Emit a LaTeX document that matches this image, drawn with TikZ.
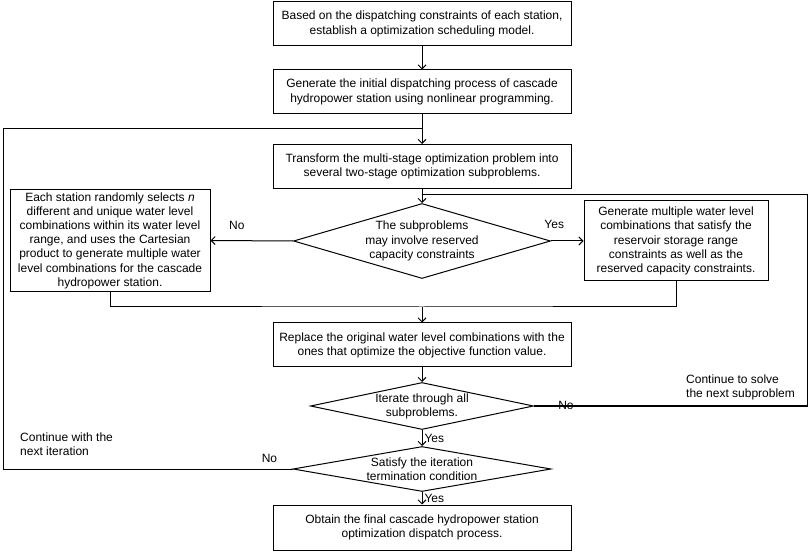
\documentclass[tikz,border=0pt]{standalone}
\usepackage{fontspec}
\setmainfont{Liberation Sans}
\usetikzlibrary{shapes.geometric,arrows.meta}

\tikzset{
    stepbox/.style={draw, line width=1pt, align=center, inner sep=2pt,
        minimum width=298pt, minimum height=44pt},
    sidebox/.style={draw, line width=1pt, align=center, inner sep=2pt},
    decide/.style={draw, diamond, line width=1pt, align=center, inner sep=0pt},
    flow/.style={line width=1pt, -{Straight Barb[length=4pt,width=8pt]}},
    link/.style={line width=1pt},
    tag/.style={inner sep=0pt, align=left},
}

\begin{document}
\begin{tikzpicture}[x=1pt, y=-1pt, font=\fontsize{12}{14.2}\selectfont]
        \useasboundingbox (0, 0) rectangle (809, 553);

        \coordinate (joinL) at (422, 129);
        \coordinate (joinR) at (422, 195);
        \coordinate (merge) at (422, 307);

        \node[stepbox] (model) at (422, 24) {Based on the dispatching constraints of each station,\\establish a optimization scheduling model.};
        \node[stepbox] (init) at (422, 92) {Generate the initial dispatching process of cascade\\hydropower station using nonlinear programming.};
        \node[stepbox] (split) at (422, 166.5) {Transform the multi-stage optimization problem into\\several two-stage optimization subproblems.};
        \node[decide, minimum width=257pt, minimum height=75pt, aspect=3.4] (reserve) at (422, 241) {The subproblems\\may involve reserved\\capacity constraints};
        \node[sidebox, minimum width=200pt, minimum height=102pt] (random) at (110, 240.5) {Each station randomly selects \textit{n}\\different and unique water level\\combinations within its water level\\range, and uses the Cartesian\\product to generate multiple water\\level combinations for the cascade\\hydropower station.};
        \node[sidebox, minimum width=184pt, minimum height=80pt] (storage) at (676, 241) {Generate multiple water level\\combinations that satisfy the\\reservoir storage range\\constraints as well as the\\reserved capacity constraints.};
        \node[stepbox] (replace) at (422, 345) {Replace the original water level combinations with the\\ones that optimize the objective function value.};
        \node[decide, minimum width=223pt, minimum height=47pt, aspect=4.7] (allsub) at (422, 406) {Iterate through all\\subproblems.};
        \node[decide, minimum width=258pt, minimum height=45pt, aspect=5.7] (stop) at (422, 469) {Satisfy the iteration\\termination condition};
        \node[stepbox, minimum height=45pt] (final) at (422, 527.5) {Obtain the final cascade hydropower station\\optimization dispatch process.};

        % main line
        \draw[flow] (model) -- (init);
        \draw[flow] (init) -- (split);
        \draw[flow] (split) -- (reserve);
        \draw[flow] (reserve.west) -- (random.east) node[tag, pos=0.68, above=11pt] {No};
        \draw[flow] (reserve.east) -- (storage.west) node[tag, pos=0.1, above=12pt] {Yes};
        \draw[link] (random.south) |- (merge) -| (storage.south);
        \draw[flow] (merge) -- (replace);
        \draw[flow] (replace) -- (allsub);
        \draw[flow] (allsub) -- (stop) node[tag, midway, right=2pt] {Yes};
        \draw[flow] (stop) -- (final) node[tag, midway, right=2pt] {Yes};

        % loops back
        \draw[link] (allsub.east) -- (807, 406) |- (joinR);
        \draw[link] (stop.west) -- (3, 469) |- (joinL);

        \node[tag] (nosub) at (566, 405) {No};
        \node[tag] (nostop) at (269.5, 458) {No};
        \node[tag, anchor=west] (nextsub) at (686, 387) {Continue to solve\\the next subproblem};
        \node[tag, anchor=west] (nextiter) at (20, 444) {Continue with the\\next iteration};
\end{tikzpicture}
\end{document}
